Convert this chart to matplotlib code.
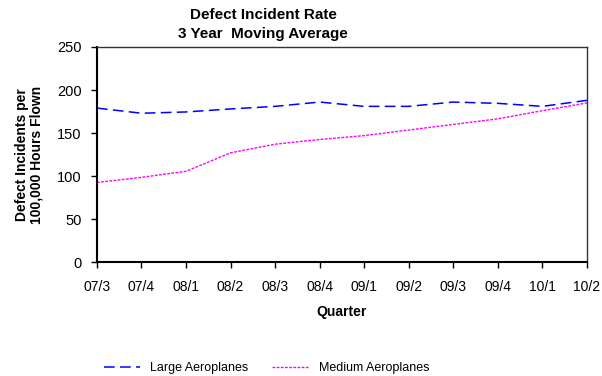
import matplotlib
matplotlib.use("Agg")
import matplotlib.pyplot as plt

quarters = ["07/3", "07/4", "08/1", "08/2", "08/3", "08/4",
            "09/1", "09/2", "09/3", "09/4", "10/1", "10/2"]
large = [179, 173, 174.5, 178, 181, 186, 181, 181, 186, 184.5, 181, 188]
medium = [92.5, 98.5, 105.5, 127, 137, 142.5, 147, 153.5, 160, 166.5, 176, 185]

plt.rcParams["font.family"] = ["Liberation Sans", "DejaVu Sans"]

fig = plt.figure(figsize=(6.02, 3.76), dpi=100)
ax = fig.add_axes([0.161, 0.303, 0.814, 0.572])

x = range(len(quarters))
ax.plot(x, large, color="#0000FF", lw=1.1, dashes=(7, 3.5), label="Large Aeroplanes")
ax.plot(x, medium, color="#FF00FF", lw=1.0, dashes=(2, 1), label="Medium Aeroplanes")

ax.set_xlim(0, len(quarters) - 1)
ax.set_ylim(0, 250)
ax.set_yticks(range(0, 251, 50))
ax.set_xticks(list(x))
ax.set_xticklabels(quarters)
ax.tick_params(labelsize=10, length=4, width=1)
ax.tick_params(axis="x", pad=9)
ax.tick_params(axis="y", pad=7, labelsize=10.5)

for side in ["left", "bottom"]:
    ax.spines[side].set_linewidth(1.5)
for side in ["top", "right"]:
    ax.spines[side].set_linewidth(1.0)
    ax.spines[side].set_color("#333333")

# title and legend are centred over the whole chart area, not the plot box
fig.text(0.437, 0.978, "Defect Incident Rate\n3 Year  Moving Average", fontsize=11,
         fontweight="bold", linespacing=1.4, ha="center", va="top")
ax.set_xlabel("Quarter", fontsize=10, fontweight="bold", labelpad=8)
ax.set_ylabel("Defect Incidents per\n100,000 Hours Flown", fontsize=10,
              fontweight="bold", labelpad=10, linespacing=1.0)

fig.legend(loc="lower center", bbox_to_anchor=(0.443, -0.025), ncol=2, frameon=False,
           fontsize=9, handlelength=2.9, handletextpad=0.8, columnspacing=1.9)

fig.savefig("out.png", dpi=100, facecolor="white")
